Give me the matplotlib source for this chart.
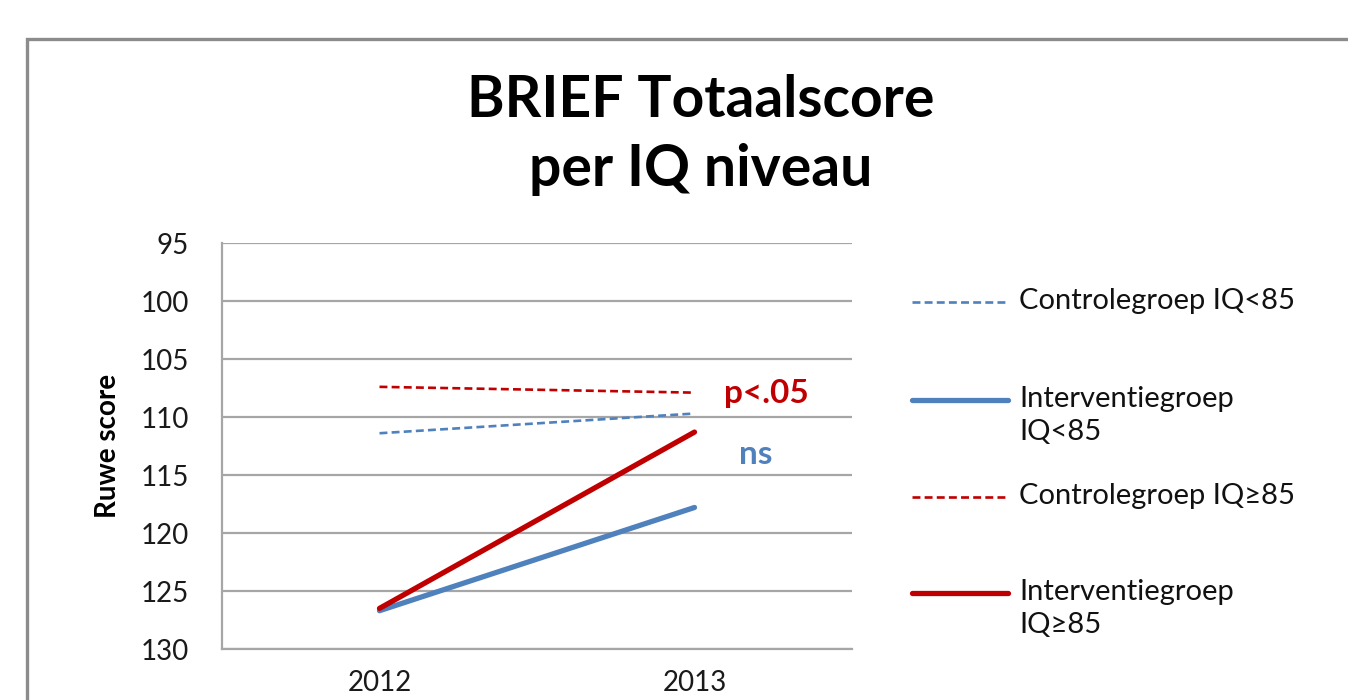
import matplotlib
matplotlib.use("Agg")
import matplotlib.pyplot as plt
from matplotlib.lines import Line2D
from matplotlib.patches import Rectangle

plt.rcParams['font.family'] = ['Lato', 'DejaVu Sans']

years = ['2012', '2013']
controle_lt85 = [111.4, 109.7]
interventie_lt85 = [126.7, 117.8]
controle_ge85 = [107.4, 107.9]
interventie_ge85 = [126.5, 111.3]
labels = ['Controlegroep IQ<85', 'Interventiegroep\nIQ<85',
          'Controlegroep IQ\u226585', 'Interventiegroep\nIQ\u226585']
yticks = [95, 100, 105, 110, 115, 120, 125, 130]

blue = '#4F81BD'
red = '#C00000'
series = [controle_lt85, interventie_lt85, controle_ge85, interventie_ge85]
styles = [dict(color=blue, lw=1.9, ls=(0, (3, 1.6))),
          dict(color=blue, lw=3.8, ls='-'),
          dict(color=red, lw=1.9, ls=(0, (3, 1.6))),
          dict(color=red, lw=3.8, ls='-')]

fig = plt.figure(figsize=(13.48, 7.0), dpi=100)
W, H = 1348, 700
ax = fig.add_axes([222 / W, 1 - 649 / H, 630 / W, 406 / H])

x = list(range(len(years)))
for vals, st in zip(series, styles):
    ax.plot(x, vals, solid_capstyle='round', dash_capstyle='butt', **st)

ax.set_xlim(-0.5, 1.5)
ax.set_ylim(130, 95)
ax.set_yticks(yticks)
ax.set_yticklabels([str(v) for v in yticks])
ax.set_xticks(x)
ax.set_xticklabels(years)
ax.yaxis.grid(True, color='#A6A6A6', lw=1.6)
ax.set_axisbelow(True)
for s in ['top', 'right']:
    ax.spines[s].set_visible(False)
for s in ['left', 'bottom']:
    ax.spines[s].set_color('#A6A6A6')
    ax.spines[s].set_linewidth(1.6)
ax.tick_params(axis='both', length=0, labelsize=20, colors='#1a1a1a')
ax.tick_params(axis='y', pad=24)
ax.tick_params(axis='x', pad=15)
ax.set_ylabel('Ruwe score', fontsize=20, fontweight='bold', labelpad=14)

ax.text(1.095, 108.0, 'p<.05', color=red, fontsize=24, fontweight='bold',
        ha='left', va='center')
ax.text(1.14, 113.2, 'ns', color=blue, fontsize=24, fontweight='bold',
        ha='left', va='center')

fig.text(701 / W, 1 - 135 / H, 'BRIEF Totaalscore\nper IQ niveau', ha='center',
         va='center', fontsize=41, fontweight='bold', linespacing=1.36)

# legend
line_y = [302, 400, 497, 593]
for yy, lab, st in zip(line_y, labels, styles):
    fig.add_artist(Line2D([912 / W, 1008 / W], [1 - yy / H, 1 - yy / H],
                          transform=fig.transFigure, solid_capstyle='round', **st))
    fig.text(1019 / W, 1 - (yy - 14) / H, lab, ha='left', va='top', fontsize=21,
             linespacing=1.35, color='#111111')

# outer frame
fig.add_artist(Rectangle((27 / W, -0.2), 1.5, 1 - 39 / H + 0.2, transform=fig.transFigure,
                         fill=False, ec='#8C8C8C', lw=2.4))

fig.savefig('out.png', dpi=100)
